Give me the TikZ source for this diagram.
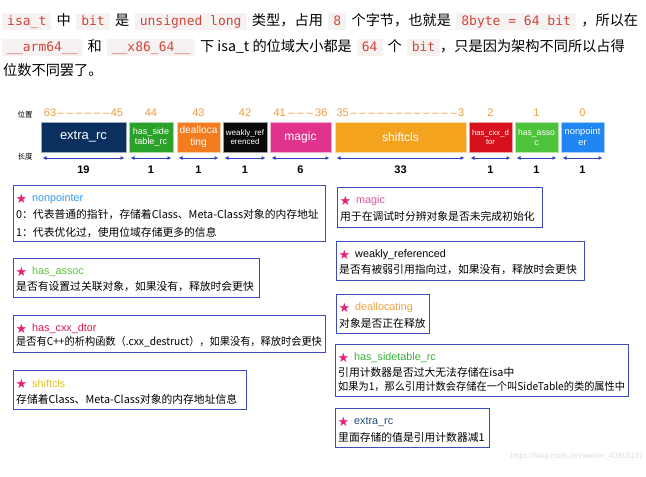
\documentclass[tikz,border=0pt]{standalone}
\usepackage{fontspec}
\usepackage{graphicx}
\setmainfont{Liberation Sans}
\newfontfamily\cjk{Noto Sans CJK SC}
\newfontfamily\mono{DejaVu Sans Mono}
\newfontfamily\sym{DejaVu Sans}
\usetikzlibrary{arrows.meta}
\definecolor{codebg}{HTML}{F6F2F2}
\definecolor{codered}{HTML}{D0463A}
\definecolor{toporange}{HTML}{F29B3A}
\definecolor{arrowblue}{HTML}{2F3FBF}
\definecolor{boxblue}{HTML}{3C4DBB}
\definecolor{starpink}{HTML}{E6217A}
\definecolor{cNavy}{HTML}{0B2F5F}
\definecolor{cGreenA}{HTML}{2AA22A}
\definecolor{cOrange}{HTML}{F47C20}
\definecolor{cBlack}{HTML}{0A0A0A}
\definecolor{cMagic}{HTML}{E0338C}
\definecolor{cShift}{HTML}{F4A31F}
\definecolor{cRed}{HTML}{D6101C}
\definecolor{cGreenB}{HTML}{4CC33A}
\definecolor{cBlue}{HTML}{1F86F2}
\definecolor{tBlue}{HTML}{2F9BF0}
\definecolor{tGreen}{HTML}{5CC43C}
\definecolor{tRed}{HTML}{D61A4A}
\definecolor{tYellow}{HTML}{E6C229}
\definecolor{tPink}{HTML}{E0559A}
\definecolor{tOrange}{HTML}{F0A040}
\definecolor{tGreen2}{HTML}{3BB03B}
\definecolor{tNavy}{HTML}{1F4A78}
\newcommand\code[1]{{\setlength\fboxsep{0pt}\colorbox{codebg}{\rule[-4pt]{0pt}{17pt}\kern5pt{\mono\fontsize{13}{15}\selectfont\color{codered}#1}\kern5pt}}}
\newcommand\gapA{\hspace{5.4pt}}
\newcommand\gapB{\hspace{5pt}}
\newcommand\dsh{\kern1.5pt\textendash\kern1.5pt}
\tikzset{
  hdr/.style={anchor=west, inner sep=0pt, font=\cjk\fontsize{14.2}{16}\selectfont},
  bitb/.style={minimum height=30pt, inner sep=0pt, text=white, align=center, draw=white!60!#1, fill=#1, line width=0.6pt},
  toplab/.style={text=toporange, inner sep=0pt, font=\fontsize{11}{13}\selectfont},
  lenlab/.style={inner sep=0pt, font=\bfseries\fontsize{11}{13}\selectfont},
  lenarrow/.style={arrowblue, line width=0.9pt, {Latex[length=4pt,width=4pt]}-{Latex[length=4pt,width=4pt]}},
  sidelab/.style={inner sep=0pt, font=\cjk\fontsize{7.5}{9}\selectfont},
  descb/.style={draw=boxblue, line width=1.2pt, fill=white, inner sep=0pt, anchor=north west},
  starn/.style={inner sep=0pt, text=starpink, font=\sym\fontsize{13}{15}\selectfont},
  titlen/.style={anchor=west, inner sep=0pt, font=\fontsize{10.8}{12}\selectfont},
  bodyn/.style={anchor=west, inner sep=0pt, font=\cjk\fontsize{10.8}{13}\selectfont},
}
\newcommand\bitbox[8]{% name, left, right, color, label, toplabel, length, fontsize
  \pgfmathsetmacro\bw{#3-#2}\pgfmathsetmacro\bc{(#3+#2)/2}\pgfmathsetmacro\bls{#8*1.15}
  \node[bitb=#4, minimum width=\bw pt, font=\fontsize{#8pt}{\bls pt}\selectfont] (#1) at (\bc,137) {#5};
  \node[toplab] (#1top) at (\bc,113) {#6};
  \coordinate (#1l) at (#2+1.5,158);
  \coordinate (#1r) at (#3-1.5,158);
  \draw[lenarrow] (#1l) -- (#1r);
  \node[lenlab] (#1len) at (\bc,170) {#7};
}
\newcommand\desc[7]{% name, x1, y1, x2, y2, colour, title
  \pgfmathsetmacro\dw{#4-#2}\pgfmathsetmacro\dh{#5-#3}
  \node[descb, minimum width=\dw pt, minimum height=\dh pt] (#1) at (#2,#3) {};
  \node[starn] (#1star) at (#2+8.5,#3+14) {★};
  \node[titlen, text=#6] (#1title) at (#2+19,#3+14) {#7};
}
\begin{document}
\begin{tikzpicture}[x=1pt,y=-1pt]
\useasboundingbox[fill=white] (0,0) rectangle (646,477);
% header
\node[hdr] (h1) at (2,21) {\code{isa\_t}\gapA 中\gapA\code{bit}\gapA 是\gapA\code{unsigned long}\gapA 类型，占用\gapA\code{8}\gapA 个字节，也就是\gapA\code{8byte = 64 bit}\gapA ，所以在};
\node[hdr] (h2) at (2,47) {\code{\_\_arm64\_\_}\gapB 和\gapB\code{\_\_x86\_64\_\_}\gapB 下 isa\_t 的位域大小都是\gapB\code{64}\gapB 个\gapB\code{bit}，只是因为架构不同所以占得};
\node[hdr] (h3) at (3,70) {位数不同罢了。};
% bit field
\node[sidelab] (pos) at (25,115) {位置};
\node[sidelab] (len) at (25,157) {长度};
\bitbox{b1}{41}{126}{cNavy}{extra\_rc}{63\dsh\dsh\dsh\dsh\dsh\dsh45}{19}{13}
\bitbox{b2}{129}{173}{cGreenA}{has\_side\\table\_rc}{44}{1}{9}
\bitbox{b3}{177}{220}{cOrange}{dealloca\\ting}{43}{1}{10.2}
\bitbox{b4}{223}{267}{cBlack}{weakly\_ref\\erenced}{42}{1}{8}
\bitbox{b5}{270}{331}{cMagic}{magic}{41\kern1pt\dsh\dsh\dsh\kern1pt36}{6}{12}
\bitbox{b6}{335}{466}{cShift}{shiftcls}{35\dsh\dsh\dsh\dsh\dsh\dsh\dsh\dsh\dsh\dsh\dsh\dsh3}{33}{12}
\bitbox{b7}{469}{512}{cRed}{has\_cxx\_d\\tor}{2}{1}{7.7}
\bitbox{b8}{515}{558}{cGreenB}{has\_asso\\c}{1}{1}{8.6}
\bitbox{b9}{561}{604}{cBlue}{nonpoint\\er}{0}{1}{9.3}
% descriptions, left column
\desc{dnon}{13}{185}{325}{241}{tBlue}{nonpointer}
\node[bodyn] (dnon1) at (16,215) {0：代表普通的指针，存储着Class、Meta-Class对象的内存地址};
\node[bodyn] (dnon2) at (16,232) {1：代表优化过，使用位域存储更多的信息};
\desc{dassoc}{13}{258}{259}{297}{tGreen}{has\_assoc}
\node[bodyn] (dassoc1) at (16,287) {是否有设置过关联对象，如果没有，释放时会更快};
\desc{dcxx}{13}{315}{325}{352}{tRed}{has\_cxx\_dtor}
\node[bodyn] (dcxx1) at (16,342) {\scalebox{0.945}[1]{是否有C++的析构函数（.cxx\_destruct），如果没有，释放时会更快}};
\desc{dshift}{13}{370}{246}{409}{tYellow}{shiftcls}
\node[bodyn] (dshift1) at (16,399) {存储着Class、Meta-Class对象的内存地址信息};
% descriptions, right column
\desc{dmagic}{337}{187}{542}{227}{tPink}{magic}
\node[bodyn] (dmagic1) at (340,216) {用于在调试时分辨对象是否未完成初始化};
\desc{dweak}{336}{241}{584}{280}{black}{weakly\_referenced}
\node[bodyn] (dweak1) at (339,270) {是否有被弱引用指向过，如果没有，释放时会更快};
\desc{ddealloc}{336}{294}{429}{333}{tOrange}{deallocating}
\node[bodyn] (ddealloc1) at (339,323) {对象是否正在释放};
\desc{dside}{335}{344}{628}{396}{tGreen2}{has\_sidetable\_rc}
\node[bodyn] (dside1) at (338,372) {引用计数器是否过大无法存储在isa中};
\node[bodyn] (dside2) at (338,387) {\scalebox{0.945}[1]{如果为1，那么引用计数会存储在一个叫SideTable的类的属性中}};
\desc{dextra}{335}{408}{489}{447}{tNavy}{extra\_rc}
\node[bodyn] (dextra1) at (338,437) {里面存储的值是引用计数器减1};
% watermark
\node[inner sep=0pt, text=black!13, font=\fontsize{7.8}{9}\selectfont] (wm) at (577,456) {https://blog.csdn.net/weixin\_40918107};
\end{tikzpicture}
\end{document}
